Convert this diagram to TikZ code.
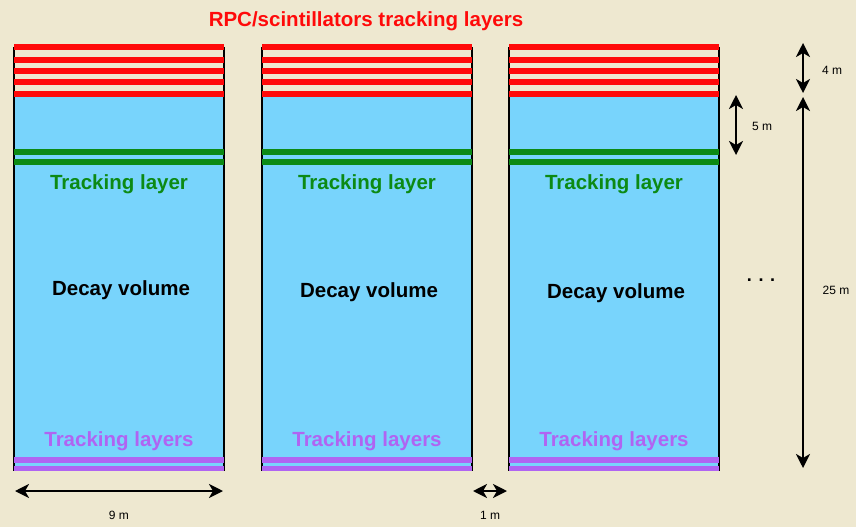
\documentclass[tikz,border=0pt]{standalone}
\usepackage{fontspec}
\setmainfont{Liberation Sans}
\usetikzlibrary{arrows.meta}
\definecolor{paper}{HTML}{EEE8D0}
\definecolor{volblue}{HTML}{78D4FC}
\definecolor{rpcred}{HTML}{FF0A0A}
\definecolor{trkgreen}{HTML}{0C8A14}
\definecolor{trkpurple}{HTML}{B064F2}
\tikzset{
  layer/.style={line width=5.5pt},
  dim/.style={black,line width=2.4pt,{Stealth[length=14pt,width=14pt,inset=4pt]}-{Stealth[length=14pt,width=14pt,inset=4pt]}},
  biglabel/.style={font=\bfseries\fontsize{20.5}{24}\selectfont},
  smalllabel/.style={font=\fontsize{12}{14}\selectfont},
}
\begin{document}
\begin{tikzpicture}[x=1pt,y=-1pt]
   \fill [paper] (0,0) rectangle (856,527);
   \useasboundingbox (0,0) rectangle (856,527);
   % the three detector modules
   \foreach \x/\n/\d in {14/1/288,262/2/290,509/3/291} {
     \fill [volblue] (\x,96) rectangle (\x+210,470);
     \draw [black,line width=2.5pt] (\x,47) -- (\x,471) (\x+210,47) -- (\x+210,471);
     \foreach \y in {47,60,71,82,94}
       \draw [layer,rpcred] (\x,\y) -- (\x+210,\y);
     \draw [layer,trkgreen] (\x,152) -- (\x+210,152);
     \draw [layer,trkgreen] (\x,162) -- (\x+210,162);
     \draw [layer,trkpurple] (\x,460) -- (\x+210,460);
     \draw [layer,trkpurple] (\x,468.5) -- (\x+210,468.5);
     \node [biglabel,text=trkgreen] (trk\n) at (\x+105,184) {Tracking layer};
     \node [biglabel,text=black] (vol\n) at (\x+107,\d+2) {Decay volume};
     \node [biglabel,text=trkpurple] (low\n) at (\x+105,441) {Tracking layers};
   }
   \node [biglabel,text=rpcred] (title) at (366,21) {RPC/scintillators tracking layers};
   % dimensions
   \coordinate (wl) at (15,491);
   \coordinate (wr) at (223,491);
   \coordinate (gl) at (473,491);
   \coordinate (gr) at (507,491);
   \coordinate (st) at (736,95);
   \coordinate (sb) at (736,155);
   \coordinate (ft) at (803,43);
   \coordinate (fb) at (803,93);
   \coordinate (tt) at (803,97);
   \coordinate (tb) at (803,468);
   \draw [dim] (wl) -- (wr);
   \draw [dim] (gl) -- (gr);
   \draw [dim] (st) -- (sb);
   \draw [dim] (ft) -- (fb);
   \draw [dim] (tt) -- (tb);
   \node [smalllabel] (w) at (119,515) {9 m};
   \node [smalllabel] (g) at (490,515) {1 m};
   \node [smalllabel] (s) at (762,126) {5 m};
   \node [smalllabel] (f) at (832,70) {4 m};
   \node [smalllabel] (t) at (836,290) {25 m};
   \node [font=\bfseries\fontsize{18}{20}\selectfont] (dots) at (761,280) {. . .};
\end{tikzpicture}
\end{document}
